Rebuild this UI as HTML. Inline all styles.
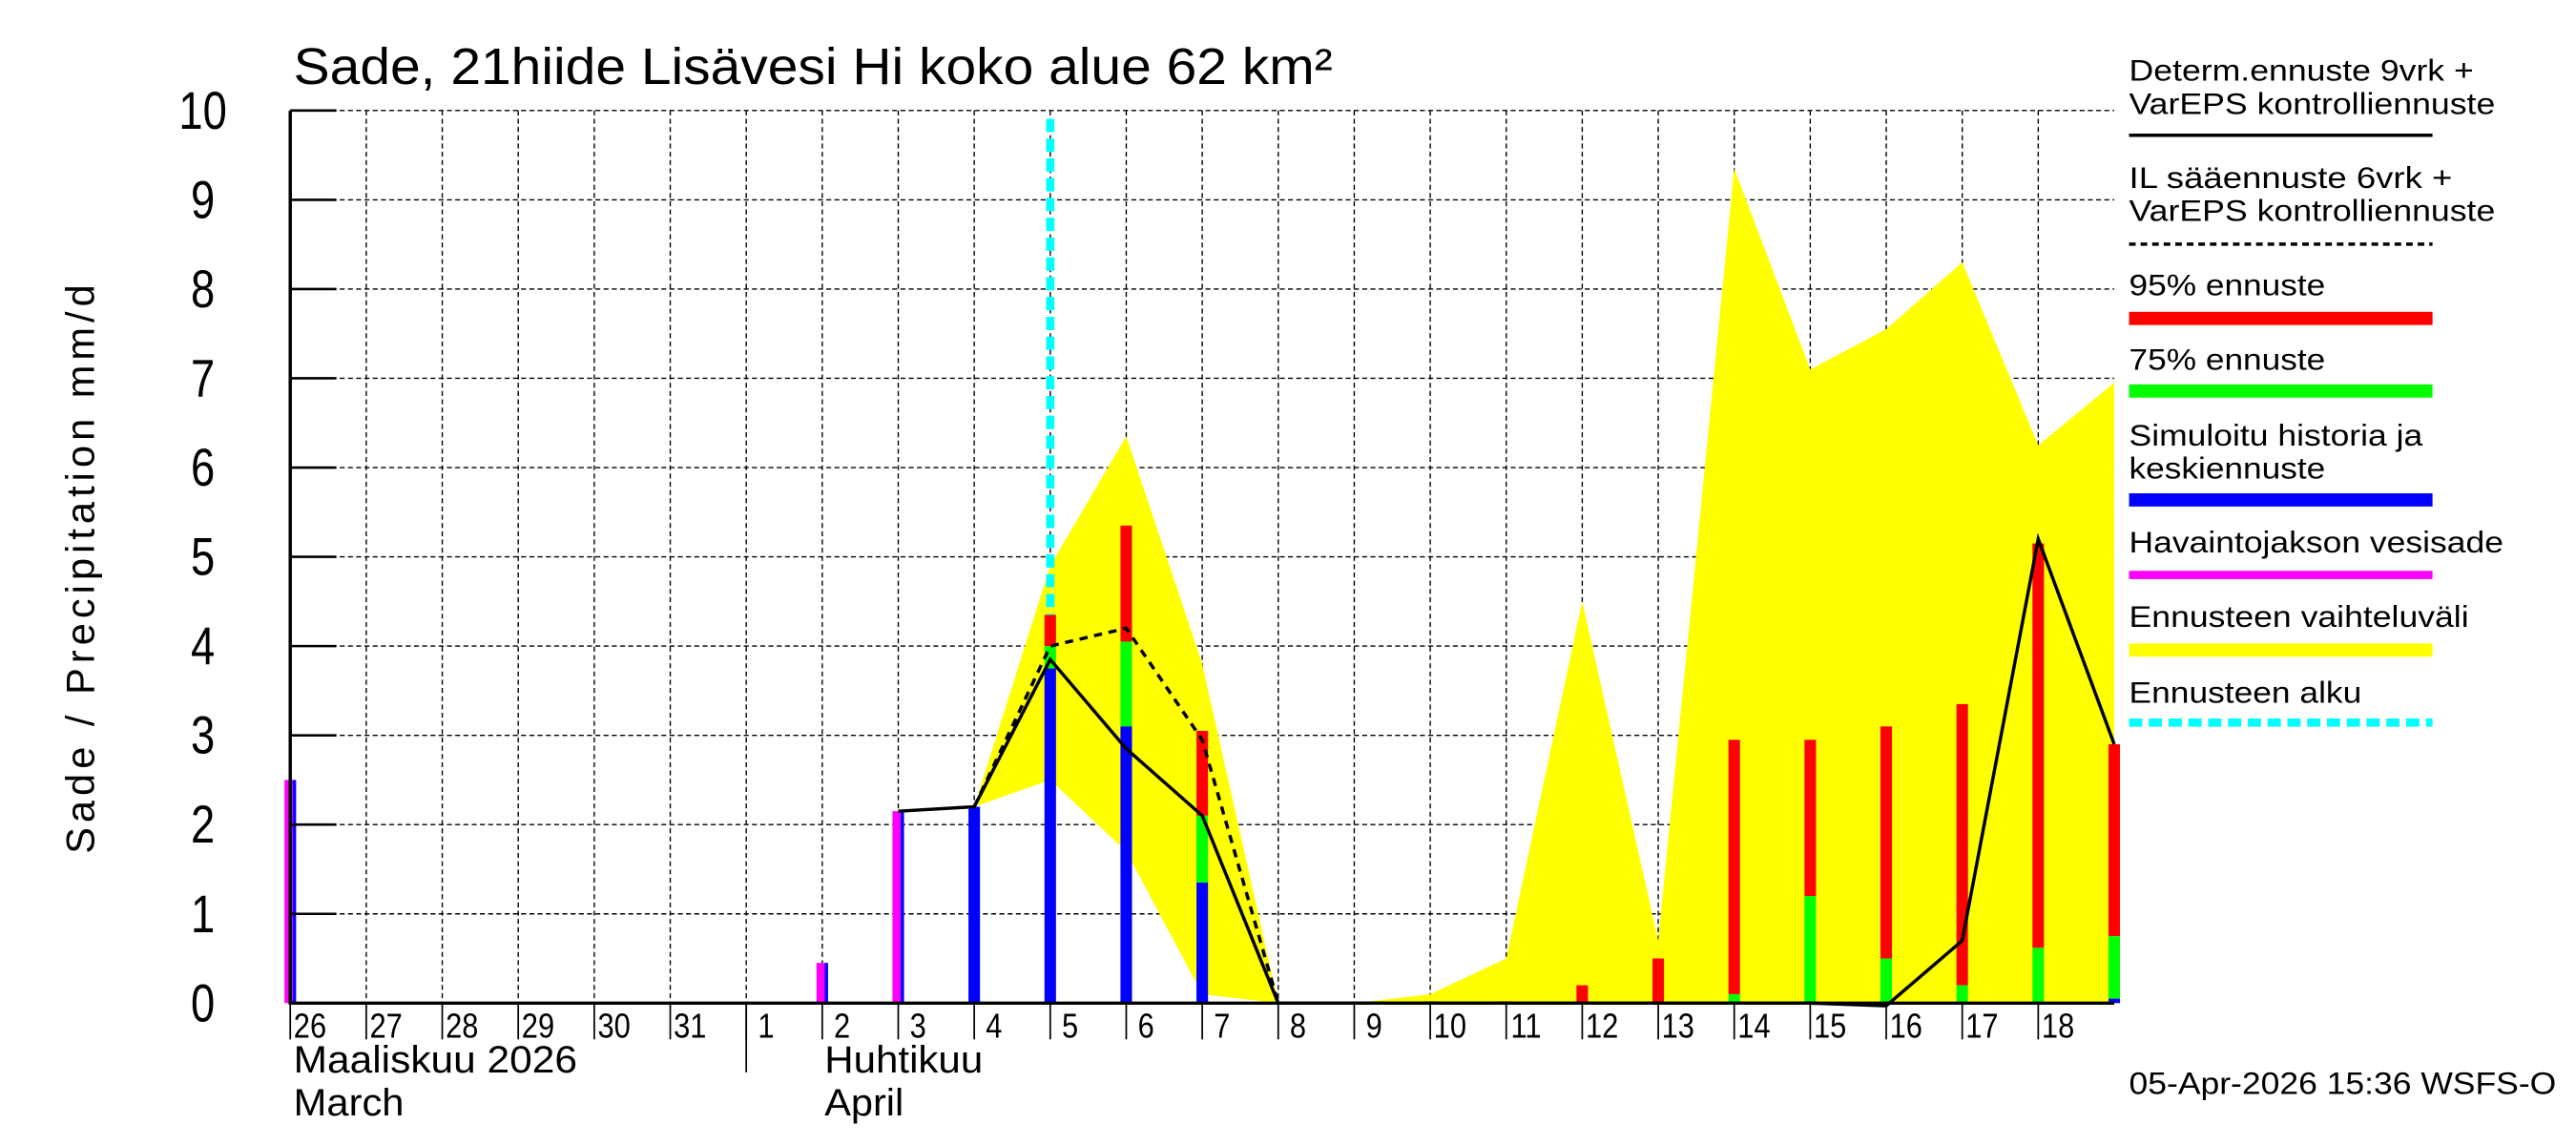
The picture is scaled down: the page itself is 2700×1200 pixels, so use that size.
<!DOCTYPE html>
<html><head><meta charset="utf-8"><style>
html,body{margin:0;padding:0;background:#fff}
svg{display:block}
text{font-family:"Liberation Sans",sans-serif;fill:#000}
</style></head><body>
<svg id="chart" width="2700" height="1200" viewBox="0 0 1562 694" preserveAspectRatio="none" xmlns="http://www.w3.org/2000/svg">
<g id="grid"></g>
<g id="band"></g>
<g id="bars"></g>
<g id="lines"></g>
<g id="axes"></g>
<text x="178" y="51" font-size="31" textLength="630" lengthAdjust="spacingAndGlyphs">Sade, 21hiide Lisävesi Hi koko alue 62 km²</text>
<text transform="translate(57,345) rotate(-90)" text-anchor="middle" font-size="24" textLength="345" lengthAdjust="spacing">Sade / Precipitation   mm/d</text>
<text x="178" y="650" font-size="23" textLength="172" lengthAdjust="spacingAndGlyphs">Maaliskuu 2026</text>
<text x="178" y="676" font-size="23" textLength="67" lengthAdjust="spacingAndGlyphs">March</text>
<text x="500" y="650" font-size="23" textLength="96" lengthAdjust="spacingAndGlyphs">Huhtikuu</text>
<text x="500" y="676" font-size="23" textLength="48" lengthAdjust="spacingAndGlyphs">April</text>
<text x="1291" y="663" font-size="19" textLength="259" lengthAdjust="spacingAndGlyphs">05-Apr-2026 15:36 WSFS-O</text>
<g font-size="18">
<text x="1291" y="49" textLength="209" lengthAdjust="spacingAndGlyphs">Determ.ennuste 9vrk +</text><text x="1291" y="69" textLength="222" lengthAdjust="spacingAndGlyphs">VarEPS kontrolliennuste</text>
<line x1="1291" y1="82" x2="1475" y2="82" stroke="#000" stroke-width="2"/>
<text x="1291" y="114" textLength="196" lengthAdjust="spacingAndGlyphs">IL sääennuste 6vrk  +</text><text x="1291" y="134" textLength="222" lengthAdjust="spacingAndGlyphs">VarEPS kontrolliennuste</text>
<line x1="1291" y1="148" x2="1475" y2="148" stroke="#000" stroke-width="2" stroke-dasharray="4,3"/>
<text x="1291" y="179" textLength="119" lengthAdjust="spacingAndGlyphs">95% ennuste</text><rect x="1291" y="189" width="184" height="8" fill="#f00"/>
<text x="1291" y="224" textLength="119" lengthAdjust="spacingAndGlyphs">75% ennuste</text><rect x="1291" y="233" width="184" height="8" fill="#0f0"/>
<text x="1291" y="270" textLength="178" lengthAdjust="spacingAndGlyphs">Simuloitu historia ja</text><text x="1291" y="290" textLength="119" lengthAdjust="spacingAndGlyphs">keskiennuste</text><rect x="1291" y="299" width="184" height="8" fill="#00f"/>
<text x="1291" y="335" textLength="227" lengthAdjust="spacingAndGlyphs">Havaintojakson vesisade</text><rect x="1291" y="346" width="184" height="5" fill="#f0f"/>
<text x="1291" y="380" textLength="206" lengthAdjust="spacingAndGlyphs">Ennusteen vaihteluväli</text><rect x="1291" y="390" width="184" height="8" fill="#ff0"/>
<text x="1291" y="426" textLength="141" lengthAdjust="spacingAndGlyphs">Ennusteen alku</text>
<line x1="1291" y1="438" x2="1475" y2="438" stroke="#0ff" stroke-width="5" stroke-dasharray="8,4"/>
</g>
</svg>
<script>
const dayLabels=["26","27","28","29","30","31","1","2","3","4","5","6","7","8","9","10","11","12","13","14","15","16","17","18"];
const yTicks=[0,1,2,3,4,5,6,7,8,9,10];
const obsIdx=[0,7,8];
const obsVals=[2.5,0.45,2.15];
const fcIdx=[9,10,11,12,13,14,15,16,17,18,19,20,21,22,23,24];
const blueVals=[2.2,3.75,3.1,1.35,0,0,0,0,0,0,0,0.02,0,0,0,0.05];
const greenVals=[2.2,4.0,4.05,2.1,0,0,0,0,0,0,0.1,1.2,0.5,0.2,0.62,0.75];
const redVals=[2.2,4.35,5.35,3.05,0,0,0.02,0.02,0.2,0.5,2.95,2.95,3.1,3.35,5.15,2.9];
const bandIdx=[9,10,11,12,13,14,15,16,17,18,19,20,21,22,23,24];
const bandUpper=[2.2,4.9,6.35,3.8,0,0,0.1,0.5,4.5,0.7,9.35,7.1,7.55,8.3,6.25,6.95];
const bandLower=[2.2,2.5,1.7,0.1,0,0,0,0,0,0,0,0,0,0,0,0];
const detIdx=[8,9,10,11,12,13,14,15,16,17,18,19,20,21,22,23,24];
const detVals=[2.15,2.2,3.85,2.85,2.1,0,0,0,0,0,0,0,0,-0.03,0.7,5.2,2.9];
const ilIdx=[9,10,11,12,13];
const ilVals=[2.2,4.0,4.2,2.95,0];
const forecastStart=10;
const NS='http://www.w3.org/2000/svg';
const X0=176,X1=1282,Y0=608,Y1=67,ND=24;
const xs=i=>X0+(X1-X0)*i/ND;
const ys=v=>Y0-(Y0-Y1)*v/10;
function mk(tag,at,parent){const e=document.createElementNS(NS,tag);for(const k in at)e.setAttribute(k,at[k]);document.getElementById(parent).appendChild(e);return e;}
for(let i=1;i<ND;i++){const e=mk('line',{x1:xs(i),x2:xs(i),y1:Y1,y2:Y0,stroke:'#000','stroke-width':0.8,'stroke-dasharray':'3,2'},'grid');

}
yTicks.forEach(t=>{if(t===0)return;const e=mk('line',{x1:X0,x2:X1,y1:ys(t),y2:ys(t),stroke:'#000','stroke-width':0.8,'stroke-dasharray':'3,2'},'grid');

});
let pts=bandIdx.map((d,k)=>xs(d)+','+ys(bandUpper[k]));
for(let k=bandIdx.length-1;k>=0;k--)pts.push(xs(bandIdx[k])+','+ys(bandLower[k]));
const bp=mk('polygon',{points:pts.join(' '),fill:'#ff0'},'band');


const BW=7;
function bar(i,v0,v1,c,name){if(v1<=v0)return;const r=mk('rect',{x:xs(i)-BW/2,y:ys(v1),width:BW,height:ys(v0)-ys(v1),fill:c},'bars');

}
obsIdx.forEach((d,k)=>{bar(d,0,obsVals[k],'#f0f','observed-bar');const e=mk('rect',{x:xs(d)+BW/2-2,y:ys(obsVals[k]),width:2,height:ys(0)-ys(obsVals[k]),fill:'#00f'},'bars');

});
fcIdx.forEach((d,k)=>{bar(d,greenVals[k],redVals[k],'#f00','bar-95');bar(d,blueVals[k],greenVals[k],'#0f0','bar-75');bar(d,0,blueVals[k],'#00f','bar-median');});
const cy=mk('line',{x1:xs(forecastStart),x2:xs(forecastStart),y1:72,y2:ys(4.35),stroke:'#0ff','stroke-width':5,'stroke-dasharray':'8,4'},'lines');


const il=mk('polyline',{points:ilIdx.map((d,k)=>xs(d)+','+ys(ilVals[k])).join(' '),fill:'none',stroke:'#000','stroke-width':2,'stroke-dasharray':'5,4'},'lines');


const dl=mk('polyline',{points:detIdx.map((d,k)=>xs(d)+','+ys(detVals[k])).join(' '),fill:'none',stroke:'#000','stroke-width':2},'lines');


const ax=mk('path',{d:`M${X0},${Y1} V${Y0} H${X1}`,fill:'none',stroke:'#000','stroke-width':2},'axes');


yTicks.forEach(t=>{const l=mk('line',{x1:X0,x2:X0+28,y1:ys(t),y2:ys(t),stroke:'#000','stroke-width':1.5},'axes');


const tx=mk('text',{x:0,y:0,'text-anchor':'middle','font-size':32,transform:`translate(123,${ys(t)+11}) scale(0.82,1)`},'axes');tx.textContent=t;

});
dayLabels.forEach((s,i)=>{const l=mk('line',{x1:xs(i),x2:xs(i),y1:Y0,y2:Y0+22,stroke:'#000','stroke-width':1},'axes');


const tx=mk('text',{x:0,y:0,'text-anchor':'middle','font-size':21,transform:`translate(${xs(i)+12},629) scale(0.85,1)`},'axes');tx.textContent=s;

});
const ms=mk('line',{x1:xs(6),x2:xs(6),y1:Y0,y2:650,stroke:'#000','stroke-width':1},'axes');


</script>
</body></html>
